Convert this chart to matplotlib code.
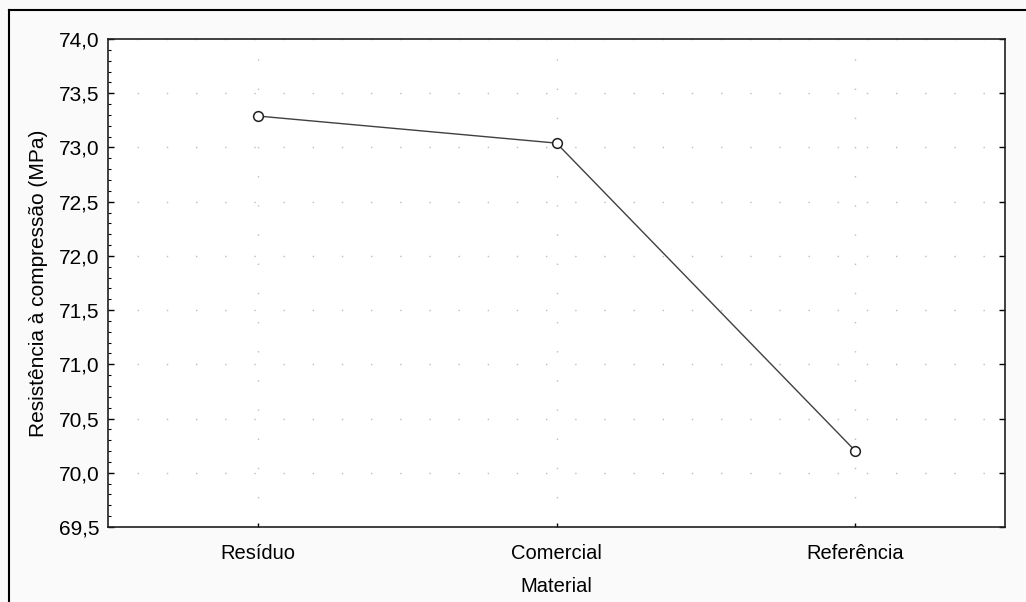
import numpy as np
import matplotlib.pyplot as plt
from matplotlib.ticker import MultipleLocator, FuncFormatter
from matplotlib.lines import Line2D

plt.rcParams['font.family'] = ['Liberation Sans', 'DejaVu Sans']

materials = ['Resíduo', 'Comercial', 'Referência']
resistencia = [73.29, 73.04, 70.20]
y_ticks = [69.5, 70.0, 70.5, 71.0, 71.5, 72.0, 72.5, 73.0, 73.5, 74.0]

fig = plt.figure(figsize=[10.26, 6.02], dpi=100, facecolor='#fafafa')
ax = fig.add_axes([0.1053, 0.1246, 0.8742, 0.8106])
ax.set_facecolor('white')

x = np.arange(len(materials))
ax.plot(x, resistencia, color='#404040', linewidth=1, marker='o', markersize=7,
        markerfacecolor='white', markeredgecolor='#202020', markeredgewidth=1.1)

ax.set_xlim([-0.5, 2.5])
ax.set_ylim([69.5, 74.0])
ax.set_xticks(x)
ax.set_xticklabels(materials, fontsize=14.5)
ax.set_yticks(y_ticks)
ax.yaxis.set_major_formatter(FuncFormatter(lambda v, p: ('%.1f' % v).replace('.', ',')))
ax.yaxis.set_minor_locator(MultipleLocator(0.1))
ax.tick_params(axis='y', labelsize=15, direction='in', length=4, width=1, right=True, pad=6)
ax.tick_params(axis='y', which='minor', direction='in', length=2, width=0.8, left=True, right=False)
ax.tick_params(axis='x', direction='in', length=3, width=1, pad=12)

ax.grid(True, color='#bcbcbc', linestyle=(0, (1, 20)), linewidth=1)
for s in ax.spines.values():
    s.set_linewidth(1.2)
    s.set_color('#202020')

ax.set_xlabel('Material', fontsize=14.5, labelpad=10)
ax.set_ylabel('Resistência à compressão (MPa)', fontsize=15, labelpad=8)

# outer frame lines (left and top)
fig.add_artist(Line2D([9/1026, 9/1026], [0, 1 - 10/602], color='black', linewidth=1.5,
                      transform=fig.transFigure))
fig.add_artist(Line2D([9/1026, 1], [1 - 10/602, 1 - 10/602], color='black', linewidth=1.5,
                      transform=fig.transFigure))

plt.savefig('out.png', dpi=100, facecolor=fig.get_facecolor())
